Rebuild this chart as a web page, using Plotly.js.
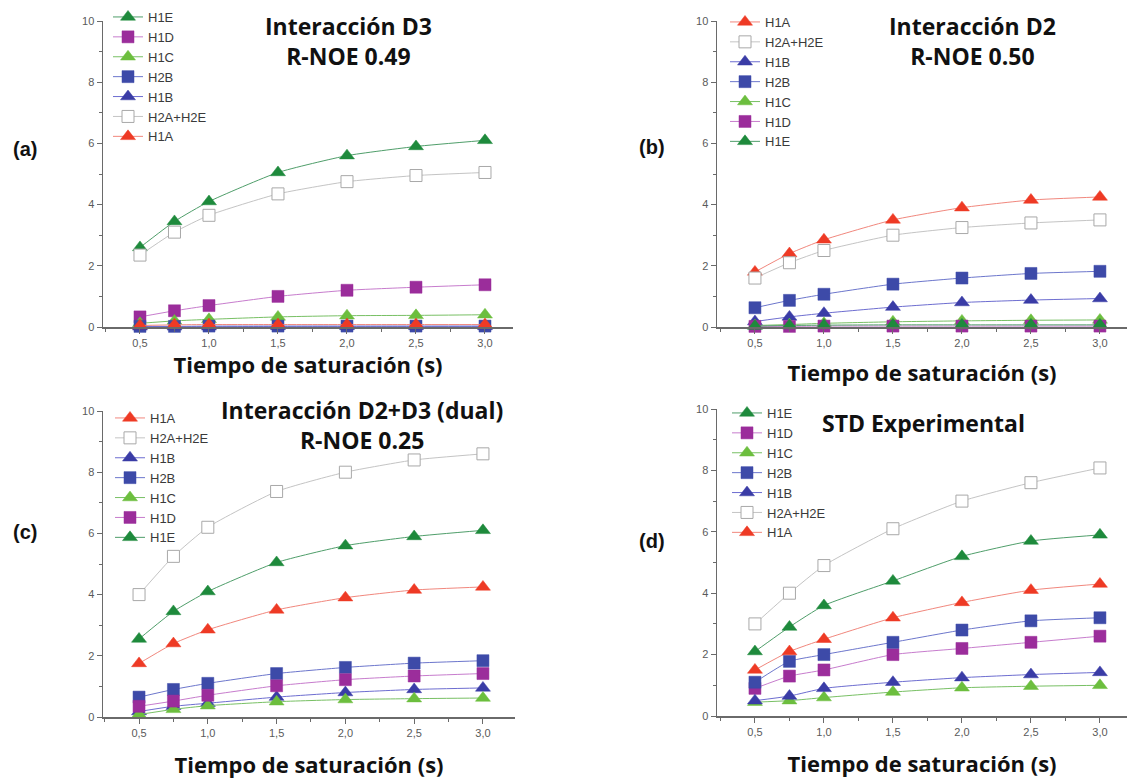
<!DOCTYPE html>
<html>
<head>
<meta charset="utf-8">
<script src="https://cdn.plot.ly/plotly-3.0.1.min.js"></script>
<style>
  html, body { margin: 0; padding: 0; background: #ffffff; }
  #chart { width: 1129px; height: 782px; }
</style>
</head>
<body>
<div id="chart"></div>
<script>
// Saturation times (s)
const tiempos = [0.5, 0.75, 1.0, 1.5, 2.0, 2.5, 3.0];

// (a) Interacción D3
const d3_H1E  = [2.6, 3.45, 4.1, 5.05, 5.6, 5.9, 6.1];
const d3_H1D  = [0.33, 0.53, 0.7, 1.0, 1.2, 1.3, 1.38];
const d3_H1C  = [0.12, 0.2, 0.25, 0.33, 0.37, 0.38, 0.4];
const d3_H2B  = [0.02, 0.02, 0.03, 0.03, 0.03, 0.03, 0.03];
const d3_H1B  = [0.01, 0.01, 0.01, 0.02, 0.02, 0.02, 0.02];
const d3_H2AE = [2.35, 3.1, 3.65, 4.35, 4.75, 4.95, 5.05];
const d3_H1A  = [0.05, 0.07, 0.08, 0.08, 0.08, 0.08, 0.08];

// (b) Interacción D2
const d2_H1A  = [1.8, 2.4, 2.85, 3.5, 3.9, 4.15, 4.25];
const d2_H2AE = [1.6, 2.1, 2.5, 3.0, 3.25, 3.4, 3.5];
const d2_H1B  = [0.18, 0.33, 0.45, 0.65, 0.8, 0.88, 0.93];
const d2_H2B  = [0.63, 0.87, 1.07, 1.4, 1.6, 1.75, 1.82];
const d2_H1C  = [0.05, 0.08, 0.12, 0.17, 0.2, 0.22, 0.23];
const d2_H1D  = [0.02, 0.02, 0.03, 0.03, 0.03, 0.03, 0.03];
const d2_H1E  = [0.03, 0.05, 0.06, 0.07, 0.07, 0.07, 0.07];

// (c) Interacción D2+D3 (dual)
const du_H1A  = [1.75, 2.4, 2.85, 3.5, 3.9, 4.15, 4.25];
const du_H2AE = [4.0, 5.25, 6.2, 7.37, 8.0, 8.4, 8.6];
const du_H1B  = [0.18, 0.35, 0.45, 0.65, 0.8, 0.9, 0.95];
const du_H2B  = [0.65, 0.9, 1.1, 1.42, 1.62, 1.76, 1.84];
const du_H1C  = [0.08, 0.25, 0.37, 0.5, 0.57, 0.6, 0.62];
const du_H1D  = [0.35, 0.52, 0.71, 1.02, 1.22, 1.34, 1.42];
const du_H1E  = [2.55, 3.45, 4.1, 5.05, 5.6, 5.9, 6.1];

// (d) STD Experimental
const ex_H1E  = [2.1, 2.9, 3.6, 4.4, 5.2, 5.7, 5.9];
const ex_H1D  = [0.9, 1.3, 1.5, 2.0, 2.2, 2.4, 2.6];
const ex_H1C  = [0.45, 0.5, 0.6, 0.78, 0.92, 0.97, 1.0];
const ex_H2B  = [1.1, 1.78, 2.0, 2.4, 2.8, 3.1, 3.2];
const ex_H1B  = [0.5, 0.65, 0.9, 1.1, 1.25, 1.35, 1.42];
const ex_H2AE = [3.0, 4.0, 4.9, 6.1, 7.0, 7.6, 8.08];
const ex_H1A  = [1.5, 2.1, 2.5, 3.2, 3.7, 4.1, 4.3];

const xTickVals = [0.5, 1.0, 1.5, 2.0, 2.5, 3.0];
const yTickVals = [0, 2, 4, 6, 8, 10];

const panelTitles = ['Interacción D3<br>R-NOE 0.49', 'Interacción D2<br>R-NOE 0.50',
                     'Interacción D2+D3 (dual)<br>R-NOE 0.25', 'STD Experimental'];
const panelLetters = ['(a)', '(b)', '(c)', '(d)'];
const xTitle = 'Tiempo de saturación (s)';

// Visual style per proton signal
const estilos = {
  'H1E':     { symbol: 'triangle-up', fill: '#1e8a3c', line: '#4f9e6a' },
  'H1D':     { symbol: 'square',      fill: '#9b2d9b', line: '#c77ccd' },
  'H1C':     { symbol: 'triangle-up', fill: '#6cbe3e', line: '#78c064' },
  'H2B':     { symbol: 'square',      fill: '#3d4aa8', line: '#6c76cc' },
  'H1B':     { symbol: 'triangle-up', fill: '#3a3ca6', line: '#6d6dd0' },
  'H2A+H2E': { symbol: 'square',      fill: '#ffffff', line: '#c4c4c4', border: '#a8a8a8' },
  'H1A':     { symbol: 'triangle-up', fill: '#ee3a25', line: '#f1877d' }
};

const W = 1129, H = 782;
const fx = px => px / W;
const fy = py => 1 - py / H;

function serie(nombre, valores, ax, leyenda) {
  const e = estilos[nombre];
  const tri = e.symbol === 'triangle-up';
  return {
    type: 'scatter', mode: 'lines+markers', name: nombre,
    x: tiempos, y: valores,
    xaxis: 'x' + ax, yaxis: 'y' + ax, legend: leyenda,
    cliponaxis: false,
    line: { color: e.line, width: 1, shape: 'spline', smoothing: 0.5 },
    marker: { symbol: e.symbol, size: tri ? 13 : 12, color: e.fill,
              line: { color: e.border || e.fill, width: e.border ? 1 : 0.5 } }
  };
}

const data = [
  // (a)
  serie('H1E', d3_H1E, '', 'legend'),
  serie('H1D', d3_H1D, '', 'legend'),
  serie('H1C', d3_H1C, '', 'legend'),
  serie('H2B', d3_H2B, '', 'legend'),
  serie('H1B', d3_H1B, '', 'legend'),
  serie('H2A+H2E', d3_H2AE, '', 'legend'),
  serie('H1A', d3_H1A, '', 'legend'),
  // (b)
  serie('H1A', d2_H1A, '2', 'legend2'),
  serie('H2A+H2E', d2_H2AE, '2', 'legend2'),
  serie('H1B', d2_H1B, '2', 'legend2'),
  serie('H2B', d2_H2B, '2', 'legend2'),
  serie('H1C', d2_H1C, '2', 'legend2'),
  serie('H1D', d2_H1D, '2', 'legend2'),
  serie('H1E', d2_H1E, '2', 'legend2'),
  // (c)
  serie('H1A', du_H1A, '3', 'legend3'),
  serie('H2A+H2E', du_H2AE, '3', 'legend3'),
  serie('H1B', du_H1B, '3', 'legend3'),
  serie('H2B', du_H2B, '3', 'legend3'),
  serie('H1C', du_H1C, '3', 'legend3'),
  serie('H1D', du_H1D, '3', 'legend3'),
  serie('H1E', du_H1E, '3', 'legend3'),
  // (d)
  serie('H1E', ex_H1E, '4', 'legend4'),
  serie('H1D', ex_H1D, '4', 'legend4'),
  serie('H1C', ex_H1C, '4', 'legend4'),
  serie('H2B', ex_H2B, '4', 'legend4'),
  serie('H1B', ex_H1B, '4', 'legend4'),
  serie('H2A+H2E', ex_H2AE, '4', 'legend4'),
  serie('H1A', ex_H1A, '4', 'legend4')
];

const axisColor = '#6a6a6a';
const tickFont = { family: 'Liberation Sans, Arial, sans-serif', size: 11, color: '#5a5a5a' };
const boldFamily = 'Open Sans, sans-serif';

function ejeX(domPx, rango, standoff, ancla) {
  return {
    anchor: ancla,
    domain: [fx(domPx[0]), fx(domPx[1])], range: rango,
    showgrid: false, zeroline: false, showline: true,
    linecolor: axisColor, linewidth: 1.5,
    ticks: 'outside', ticklen: 5, tickwidth: 1, tickcolor: axisColor,
    tickvals: xTickVals, tickformat: '.1f', tickfont: tickFont,
    minor: { dtick: 0.25, tick0: 0.5, ticks: 'outside', ticklen: 3, tickcolor: axisColor, showgrid: false },
    title: { text: xTitle, standoff: standoff,
             font: { family: boldFamily, size: 22, weight: 'bold', color: '#111111' } }
  };
}
function ejeY(domPy, ancla) {
  return {
    anchor: ancla,
    domain: [fy(domPy[0]), fy(domPy[1])], range: [0, 10],
    showgrid: false, zeroline: false, showline: true,
    linecolor: axisColor, linewidth: 1.5,
    ticks: 'outside', ticklen: 5, tickwidth: 1, tickcolor: axisColor,
    tickvals: yTickVals, tickfont: tickFont,
    minor: { dtick: 1, tick0: 0, ticks: 'outside', ticklen: 3, tickcolor: axisColor, showgrid: false }
  };
}
function leyenda(leftPx, topPx) {
  return {
    x: fx(leftPx), y: fy(topPx), xanchor: 'left', yanchor: 'top',
    bgcolor: 'rgba(0,0,0,0)', borderwidth: 0,
    font: { family: 'Liberation Sans, Arial, sans-serif', size: 13, color: '#3a3a3a' },
    itemwidth: 30, tracegroupgap: 0
  };
}

const titleFont = { family: boldFamily, size: 23, weight: 'bold', color: '#111111' };
const letterFont = { family: 'Liberation Sans, Arial, sans-serif', size: 20, weight: 'bold', color: '#111111' };

const annotations = [
  { text: panelTitles[0], x: fx(348), y: fy(41), font: titleFont },
  { text: panelTitles[1], x: fx(972), y: fy(41), font: titleFont },
  { text: panelTitles[2], x: fx(362), y: fy(425), font: titleFont },
  { text: panelTitles[3], x: fx(923), y: fy(423), font: titleFont },
  { text: panelLetters[0], x: fx(25), y: fy(149), font: letterFont },
  { text: panelLetters[1], x: fx(652), y: fy(147), font: letterFont },
  { text: panelLetters[2], x: fx(25), y: fy(532), font: letterFont },
  { text: panelLetters[3], x: fx(652), y: fy(541), font: letterFont }
].map(a => Object.assign({ xref: 'paper', yref: 'paper', showarrow: false,
                           xanchor: 'center', yanchor: 'middle', align: 'center' }, a));

const layout = {
  width: W, height: H,
  margin: { l: 0, r: 0, t: 0, b: 0 },
  paper_bgcolor: '#ffffff', plot_bgcolor: '#ffffff',
  separators: ',.',
  showlegend: true,
  xaxis:  ejeX([103, 513], [0.232, 3.203], 0, 'y'),
  yaxis:  ejeY([327, 21], 'x'),
  xaxis2: ejeX([717, 1127], [0.225, 3.196], 18, 'y2'),
  yaxis2: ejeY([327, 21], 'x2'),
  xaxis3: ejeX([103, 515], [0.238, 3.233], 20, 'y3'),
  yaxis3: ejeY([717, 411], 'x3'),
  xaxis4: ejeX([717, 1127], [0.225, 3.196], 20, 'y4'),
  yaxis4: ejeY([716, 409], 'x4'),
  legend:  leyenda(108, 2),
  legend2: leyenda(725, 7),
  legend3: leyenda(110, 403),
  legend4: leyenda(727, 398),
  annotations: annotations
};

Plotly.newPlot('chart', data, layout, { displayModeBar: false, staticPlot: true });
</script>
</body>
</html>
